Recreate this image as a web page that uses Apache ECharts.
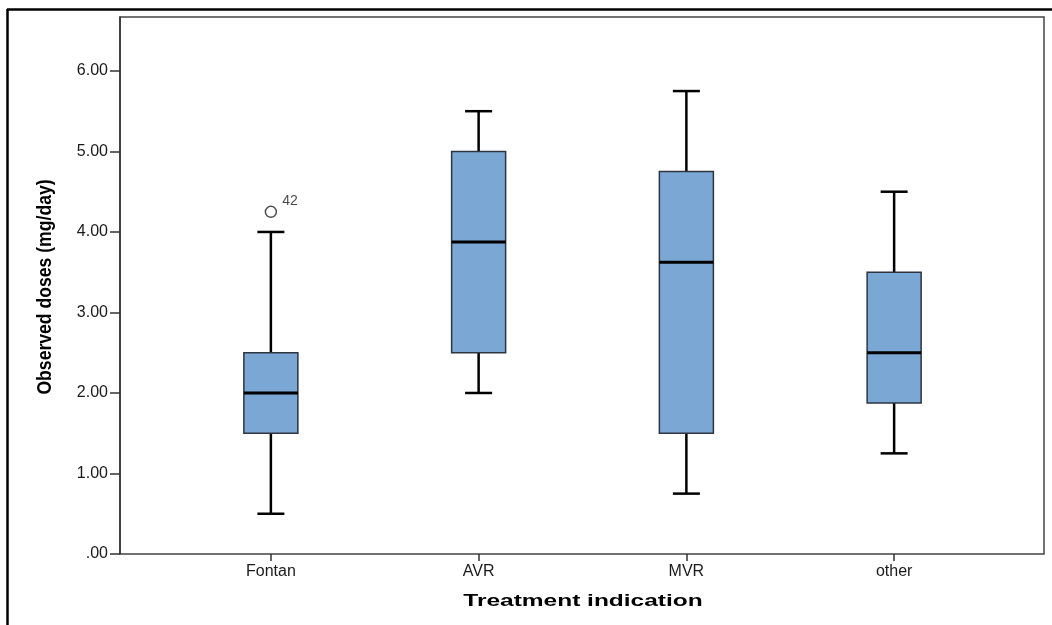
<!DOCTYPE html>
<html>
<head>
<meta charset="utf-8">
<script src="https://cdn.jsdelivr.net/npm/echarts@6/dist/echarts.min.js"></script>
<style>
html,body{margin:0;padding:0;background:#fff;}
#chart{width:1052px;height:625px;}
</style>
</head>
<body>
<div id="chart"></div>
<script>
const categories = ['Fontan', 'AVR', 'MVR', 'other'];
const whiskerLow = [0.5, 2.0, 0.75, 1.25];
const q1 = [1.5, 2.5, 1.5, 1.875];
const median = [2.0, 3.875, 3.625, 2.5];
const q3 = [2.5, 5.0, 4.75, 3.5];
const whiskerHigh = [4.0, 5.5, 5.75, 4.5];
const outlierCategory = ['Fontan'];
const outlierValue = [4.25];
const outlierLabel = ['42'];
const yTicks = [0, 1, 2, 3, 4, 5, 6];
const yMax = 6.67;

const boxData = categories.map((c, i) => [i, whiskerLow[i], q1[i], median[i], q3[i], whiskerHigh[i]]);
const outlierData = outlierCategory.map((c, i) => ({value: [categories.indexOf(c), outlierValue[i]], name: outlierLabel[i]}));

const chart = echarts.init(document.getElementById('chart'));
const font = '"Liberation Sans", Arial, sans-serif';

chart.setOption({
  animation: false,
  backgroundColor: '#fff',
  grid: [
    {left: 120, top: 17, width: 924, height: 537, show: true, borderColor: '#444', borderWidth: 1.5, backgroundColor: 'transparent'},
    {left: 167, top: 17, width: 831, height: 537}
  ],
  xAxis: [
    {gridIndex: 1, type: 'category', data: categories,
     axisLine: {show: false},
     axisTick: {show: true, alignWithLabel: true, length: 7, lineStyle: {color: '#333', width: 1.5}},
     axisLabel: {fontSize: 16, color: '#1a1a1a', margin: 10, fontFamily: font},
     splitLine: {show: false}},
    {gridIndex: 0, type: 'value', min: 0, max: 1, show: false}
  ],
  yAxis: [
    {gridIndex: 0, type: 'value', min: 0, max: yMax,
     axisLine: {show: true, lineStyle: {color: '#333', width: 1.5}},
     axisTick: {show: true, length: 10, customValues: yTicks, lineStyle: {color: '#333', width: 1.5}},
     axisLabel: {customValues: yTicks, fontSize: 16, color: '#1a1a1a', margin: 12, fontFamily: font,
       formatter: v => v === 0 ? '.00' : v.toFixed(2)},
     splitLine: {show: false}},
    {gridIndex: 1, type: 'value', min: 0, max: yMax, show: false}
  ],
  series: [
    {
      type: 'custom',
      xAxisIndex: 0, yAxisIndex: 1,
      data: boxData,
      encode: {x: 0, y: [1, 2, 3, 4, 5]},
      renderItem: function (params, api) {
        const xi = api.value(0);
        const band = api.size([1, 0])[0];
        const bw = band * 0.26;
        const cw = band * 0.13;
        const pLo = api.coord([xi, api.value(1)]);
        const pQ1 = api.coord([xi, api.value(2)]);
        const pMed = api.coord([xi, api.value(3)]);
        const pQ3 = api.coord([xi, api.value(4)]);
        const pHi = api.coord([xi, api.value(5)]);
        const cx = pLo[0];
        const ws = {stroke: '#000', lineWidth: 2.5};
        return {
          type: 'group',
          children: [
            {type: 'line', shape: {x1: cx, y1: pLo[1], x2: cx, y2: pHi[1]}, style: ws},
            {type: 'line', shape: {x1: cx - cw / 2, y1: pLo[1], x2: cx + cw / 2, y2: pLo[1]}, style: ws},
            {type: 'line', shape: {x1: cx - cw / 2, y1: pHi[1], x2: cx + cw / 2, y2: pHi[1]}, style: ws},
            {type: 'rect', shape: {x: cx - bw / 2, y: pQ3[1], width: bw, height: pQ1[1] - pQ3[1]},
             style: {fill: '#7BA7D5', stroke: '#2e3440', lineWidth: 1.5}},
            {type: 'line', shape: {x1: cx - bw / 2, y1: pMed[1], x2: cx + bw / 2, y2: pMed[1]},
             style: {stroke: '#000', lineWidth: 3}}
          ]
        };
      }
    },
    {
      type: 'scatter',
      xAxisIndex: 0, yAxisIndex: 1,
      data: outlierData,
      symbol: 'circle',
      symbolSize: 11,
      itemStyle: {color: '#fff', borderColor: '#222', borderWidth: 1.5},
      label: {show: true, formatter: p => p.name, position: 'right', offset: [0, -11],
        fontSize: 14, color: '#1a1a1a', fontFamily: font}
    }
  ],
  graphic: [
    {type: 'line', shape: {x1: 7, y1: 9.5, x2: 1052, y2: 9.5}, style: {stroke: '#000', lineWidth: 2.5}, silent: true},
    {type: 'line', shape: {x1: 7.5, y1: 9, x2: 7.5, y2: 625}, style: {stroke: '#000', lineWidth: 2.5}, silent: true},
    {type: 'text', x: 583, y: 601, scaleX: 1.44,
     style: {text: 'Treatment indication', font: 'bold 17px ' + font, fill: '#000', textAlign: 'center', textVerticalAlign: 'middle'}},
    {type: 'text', x: 45, y: 287, rotation: Math.PI / 2, scaleX: 0.88,
     style: {text: 'Observed doses (mg/day)', font: 'bold 20px ' + font, fill: '#000', textAlign: 'center', textVerticalAlign: 'middle'}}
  ]
});
</script>
</body>
</html>
